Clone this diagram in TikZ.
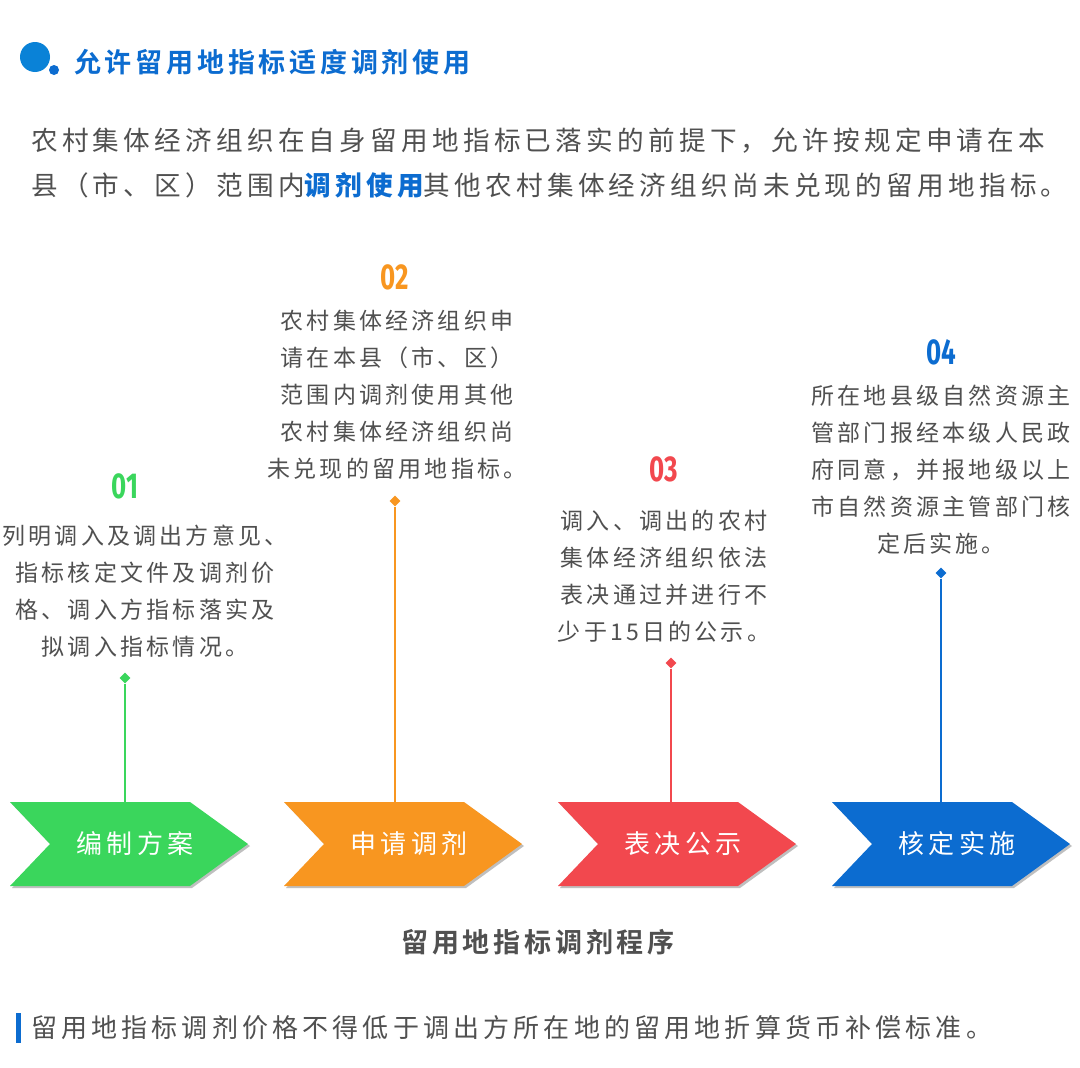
\documentclass[tikz,border=0pt]{standalone}
\usepackage{fontspec}
\setmainfont{Noto Sans CJK SC}
\newfontfamily\cjk[LetterSpace=16]{Noto Sans CJK SC}
\newfontfamily\cjks[LetterSpace=14]{Noto Sans CJK SC}
\newfontfamily\cjkb[LetterSpace=14,BoldFont={Noto Sans CJK SC Bold}]{Noto Sans CJK SC}
\newfontfamily\numfont[FakeStretch=0.72]{Fira Sans}
\usetikzlibrary{shapes.geometric}
\definecolor{sgreen}{RGB}{58,214,92}
\definecolor{sorange}{RGB}{248,150,32}
\definecolor{sred}{RGB}{242,72,78}
\definecolor{sblue}{RGB}{12,108,208}
\definecolor{txtgray}{RGB}{80,80,80}
\tikzset{
  body/.style={font=\cjks\fontsize{23}{37}\selectfont, text=txtgray, align=center, inner sep=0pt},
  num/.style={font=\numfont\bfseries\fontsize{36}{36}\selectfont, inner sep=0pt},
  tip/.style={diamond, fill=#1, minimum size=11pt, inner sep=0pt},
  chevlabel/.style={font=\cjk\fontsize{26}{26}\selectfont, text=white, inner sep=0pt},
}
\begin{document}
\begin{tikzpicture}[x=1pt,y=-1pt]
\useasboundingbox[fill=white] (0,0) rectangle (1080,1068);

% heading
\fill[sblue!85!cyan] (35,57) circle (15);
\fill[sblue] (54,70) circle (5);
\node[anchor=west, inner sep=0pt, text=sblue, font=\cjkb\bfseries\fontsize{27}{27}\selectfont] (head) at (74,62) {允许留用地指标适度调剂使用};

% intro
\node[anchor=west, inner sep=0pt, text=txtgray, font=\cjk\fontsize{26.6}{27}\selectfont] (intro1) at (31,141) {农村集体经济组织在自身留用地指标已落实的前提下，允许按规定申请在本};
\node[anchor=west, inner sep=0pt, text=txtgray, font=\cjk\fontsize{26.6}{27}\selectfont] (intro2) at (31,185) {县（市、区）范围内{\color{sblue}\bfseries 调剂使用}其他农村集体经济组织尚未兑现的留用地指标。};

% chevrons
\foreach \n/\x/\col/\lab in {1/10/sgreen/编制方案, 2/284/sorange/申请调剂, 3/558/sred/表决公示, 4/832/sblue/核定实施}{
  \fill[black!25] (\x+2,804) -- ++(180,0) -- ++(58,42) -- ++(-58,42) -- ++(-180,0) -- ++(40,-42) -- cycle;
  \fill[\col] (\x,802) -- ++(180,0) -- ++(58,42) -- ++(-58,42) -- ++(-180,0) -- ++(40,-42) -- cycle;
  \coordinate (top\n) at (\x+115,802);
  \node[chevlabel] (s\n) at (\x+125,844) {\lab};
}

% step texts
\node[num, text=sgreen] (n1) at (125,486) {01};
\node[body] (t1) at (145,591) {列明调入及调出方意见、\\指标核定文件及调剂价\\格、调入方指标落实及\\拟调入指标情况。};
\node[tip=sgreen] (d1) at (125,678) {};
\draw[sgreen, line width=2.5pt] (d1) -- (d1 |- top1);

\node[num, text=sorange] (n2) at (395,277) {02};
\node[body] (t2) at (397,395) {农村集体经济组织申\\请在本县（市、区）\\范围内调剂使用其他\\农村集体经济组织尚\\未兑现的留用地指标。};
\node[tip=sorange] (d2) at (395,501) {};
\draw[sorange, line width=2.5pt] (d2) -- (d2 |- top2);

\node[num, text=sred] (n3) at (664,469) {03};
\node[body] (t3) at (664,576) {调入、调出的农村\\集体经济组织依法\\表决通过并进行不\\少于15日的公示。};
\node[tip=sred] (d3) at (671,663) {};
\draw[sred, line width=2.5pt] (d3) -- (d3 |- top3);

\node[num, text=sblue] (n4) at (941,352) {04};
\node[body] (t4) at (941,470) {所在地县级自然资源主\\管部门报经本级人民政\\府同意，并报地级以上\\市自然资源主管部门核\\定后实施。};
\node[tip=sblue] (d4) at (941,573) {};
\draw[sblue, line width=2.5pt] (d4) -- (d4 |- top4);

% caption
\node[inner sep=0pt, text=txtgray, font=\cjkb\bfseries\fontsize{27}{27}\selectfont] (cap) at (538,942) {留用地指标调剂程序};

% note
\fill[sblue] (16,1013) rectangle (21,1043);
\node[anchor=west, inner sep=0pt, text=txtgray, font=\cjk\fontsize{26}{26}\selectfont] (note) at (31,1028) {留用地指标调剂价格不得低于调出方所在地的留用地折算货币补偿标准。};
\end{tikzpicture}
\end{document}
